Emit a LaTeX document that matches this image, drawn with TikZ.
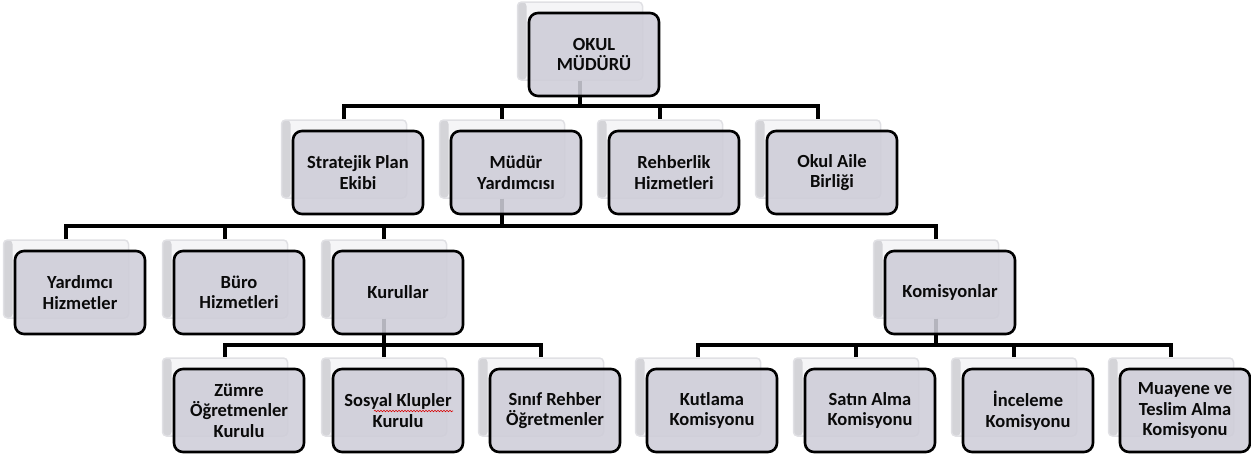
\documentclass[tikz,border=0pt]{standalone}
\usepackage{fontspec}
\setmainfont{Carlito}
\usetikzlibrary{decorations.pathmorphing,calc}
\pgfdeclarelayer{back}
\pgfdeclarelayer{conn}
\pgfsetlayers{back,conn,main}
\definecolor{frontfill}{RGB}{206,205,216}
\definecolor{backfill}{RGB}{245,245,247}
\definecolor{backedge}{RGB}{224,224,228}
\definecolor{backside}{RGB}{212,212,216}
\definecolor{txt}{RGB}{10,10,10}
\tikzset{
  backbox/.style={rectangle, rounded corners=4pt, minimum width=125pt, minimum height=78pt,
    fill=backfill, draw=backedge, line width=1.5pt, inner sep=0pt,
    path picture={\fill[backside] (path picture bounding box.north west) rectangle ([xshift=9pt]path picture bounding box.south west);}},
  frontbox/.style={rectangle, rounded corners=9pt, minimum width=130pt, minimum height=83pt,
    fill=frontfill, fill opacity=0.88, text opacity=1, draw=black, line width=2.6pt,
    align=center, inner sep=2pt, text=txt,
    font=\fontsize{18.5}{20.5}\selectfont\bfseries},
  conn/.style={draw=black, line width=4.5pt},
}
\newcommand\orgbox[4]{%
  \begin{pgfonlayer}{back}\node[backbox] (#1b) at (#2, #3+39) {};\end{pgfonlayer}
  \node[frontbox] (#1) at (#2+14, #3+52.5) {#4};
}
\begin{document}
\begin{tikzpicture}[x=1pt, y=-1pt]
\useasboundingbox (0,0) rectangle (1251,461);
% level 0
\orgbox{om}{580}{2}{OKUL\\MÜDÜRÜ}
% level 1
\orgbox{sp}{344}{120}{Stratejik Plan\\Ekibi}
\orgbox{my}{502}{120}{Müdür\\Yardımcısı}
\orgbox{rh}{660}{120}{Rehberlik\\Hizmetleri}
\orgbox{oa}{818}{120}{Okul Aile\\Birliği}
% level 2
\orgbox{yh}{66}{240}{Yardımcı\\Hizmetler}
\orgbox{bh}{225}{240}{Büro\\Hizmetleri}
\orgbox{ku}{384}{240}{Kurullar}
\orgbox{ko}{936}{240}{Komisyonlar}
% level 3
\orgbox{zo}{225}{358}{Zümre\\Öğretmenler\\Kurulu}
\orgbox{sk}{384}{358}{Sosyal Klupler\\Kurulu}
\orgbox{sr}{541}{358}{Sınıf Rehber\\Öğretmenler}
\orgbox{kt}{698}{358}{Kutlama\\Komisyonu}
\orgbox{sa}{856}{358}{Satın Alma\\Komisyonu}
\orgbox{in}{1014}{358}{İnceleme\\Komisyonu}
\orgbox{mu}{1171}{358}{Muayene ve\\Teslim Alma\\Komisyonu}
% connectors
\begin{pgfonlayer}{conn}
\foreach \c in {spb,myb,rhb,oab}
  \draw[conn] (omb.south) -- (omb.south |- 0,106) -| (\c.north);
\foreach \c in {yhb,bhb,kub,kob}
  \draw[conn] (myb.south) -- (myb.south |- 0,226) -| (\c.north);
\foreach \c in {zob,skb,srb}
  \draw[conn] (kub.south) -- (kub.south |- 0,345) -| (\c.north);
\foreach \c in {ktb,sab,inb,mub}
  \draw[conn] (kob.south) -- (kob.south |- 0,345) -| (\c.north);
\end{pgfonlayer}
% spell-check underline
\draw[red!85!black, line width=0.6pt, decorate, decoration={snake, amplitude=0.7pt, segment length=3pt}]
  ($(sk.center)+(-24,0.5)$) -- ($(sk.center)+(55,0.5)$);
\end{tikzpicture}
\end{document}
